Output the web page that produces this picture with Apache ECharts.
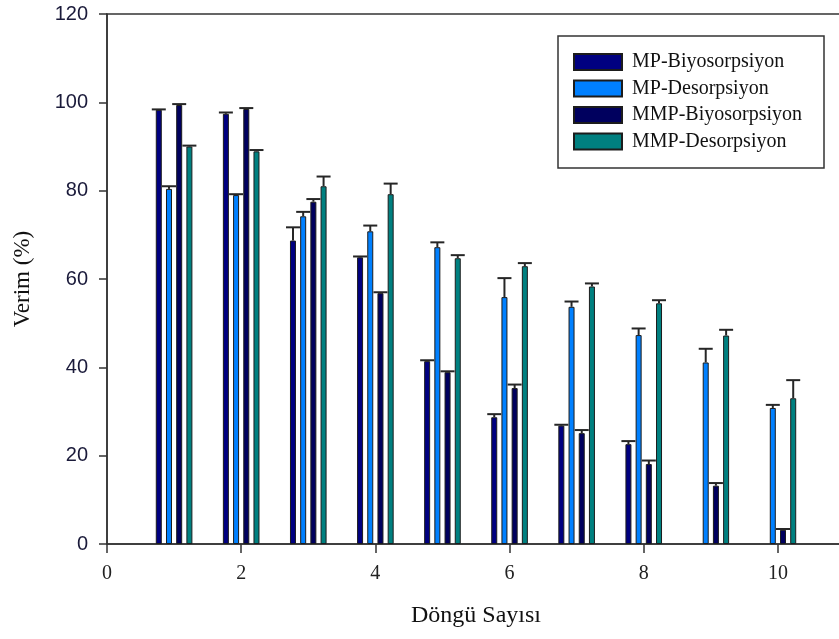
<!DOCTYPE html>
<html>
<head>
<meta charset="utf-8">
<script src="https://cdn.jsdelivr.net/npm/echarts@6/dist/echarts.min.js"></script>
<style>html,body{margin:0;padding:0;background:#fff}#c{width:839px;height:639px}</style>
</head>
<body>
<div id="c"></div>
<script>
const cycles = [1, 2, 3, 4, 5, 6, 7, 8, 9, 10];
const seriesNames = ['MP-Biyosorpsiyon', 'MP-Desorpsiyon', 'MMP-Biyosorpsiyon', 'MMP-Desorpsiyon'];
const mpBio = [98.3, 97.4, 68.7, 64.9, 41.4, 28.7, 26.8, 22.6, null, null];
const mpBioErr = [0.1, 0.3, 3.0, 0.2, 0.2, 0.7, 0.2, 0.7, null, null];
const mpDes = [80.4, 79.0, 74.2, 70.8, 67.2, 55.9, 53.7, 47.3, 41.1, 30.8];
const mpDesErr = [0.6, 0.2, 1.0, 1.3, 1.1, 4.3, 1.2, 1.5, 3.1, 0.7];
const mmpBio = [99.4, 98.5, 77.5, 56.8, 38.9, 35.3, 25.1, 18.1, 13.2, 3.2];
const mmpBioErr = [0.2, 0.2, 0.6, 0.2, 0.2, 0.8, 0.7, 0.8, 0.6, 0.2];
const mmpDes = [90.0, 88.9, 81.0, 79.2, 64.7, 62.9, 58.3, 54.5, 47.2, 33.0];
const mmpDesErr = [0.2, 0.3, 2.2, 2.4, 0.7, 0.7, 0.7, 0.7, 1.3, 4.1];
const xTicks = [0, 2, 4, 6, 8, 10];
const yTicks = [0, 20, 40, 60, 80, 100, 120];

const values = [mpBio, mpDes, mmpBio, mmpDes];
const errors = [mpBioErr, mpDesErr, mmpBioErr, mmpDesErr];
const colors = ['#000080', '#0080ff', '#00005e', '#008080'];

const BAR_W = 6, BAR_GAP = 4.2;
const PITCH = BAR_W + BAR_GAP;

const barSeries = values.map((arr, k) => ({
  name: seriesNames[k],
  type: 'bar',
  barWidth: BAR_W,
  barGap: (BAR_GAP / BAR_W * 100) + '%',
  itemStyle: { color: colors[k], borderColor: '#1c1c1c', borderWidth: 1 },
  data: cycles.map((c, i) => [c, arr[i]]),
  z: 2
}));

const errData = [];
values.forEach((arr, k) => {
  cycles.forEach((c, i) => {
    if (arr[i] != null) errData.push([c, arr[i], errors[k][i], k]);
  });
});

const errSeries = {
  type: 'custom',
  silent: true,
  z: 3,
  data: errData,
  renderItem: function (params, api) {
    const x = api.value(0), y = api.value(1), e = api.value(2), k = api.value(3);
    const base = api.coord([x, y]);
    const top = api.coord([x, y + e]);
    const cx = base[0] + (k - 1.5) * PITCH;
    const st = { stroke: '#262626', lineWidth: 2 };
    return {
      type: 'group',
      children: [
        { type: 'line', shape: { x1: cx, y1: base[1], x2: cx, y2: top[1] }, style: st },
        { type: 'line', shape: { x1: cx - 7, y1: top[1], x2: cx + 7, y2: top[1] }, style: st }
      ]
    };
  }
};

const chart = echarts.init(document.getElementById('c'), null, { renderer: 'canvas' });
chart.setOption({
  animation: false,
  backgroundColor: '#fff',
  grid: {
    left: 107, top: 14, width: 738, height: 530,
    containLabel: false, outerBoundsMode: 'none',
    show: true, borderColor: '#333', borderWidth: 1.5
  },
  legend: {
    orient: 'vertical',
    left: 573, top: 52,
    padding: 0,
    itemWidth: 48, itemHeight: 16,
    itemGap: 6.5,
    icon: 'rect',
    data: seriesNames,
    textStyle: { fontFamily: 'Liberation Serif', fontSize: 20, color: '#111', padding: [0, 0, 0, 5], lineHeight: 20 }
  },
  xAxis: {
    type: 'value',
    min: 0, max: 11, interval: 2,
    splitLine: { show: false },
    axisLine: { lineStyle: { color: '#333', width: 1.5 } },
    axisTick: { inside: false, length: 9, lineStyle: { color: '#333', width: 1.5 } },
    axisLabel: {
      showMaxLabel: false, margin: 20,
      fontFamily: 'Liberation Serif', fontSize: 20, color: '#222',
      formatter: v => (xTicks.indexOf(v) >= 0 ? String(v) : '')
    },
    name: 'Döngü Sayısı',
    nameLocation: 'middle',
    nameGap: 60,
    nameTextStyle: { fontFamily: 'Liberation Serif', fontSize: 24, color: '#111' }
  },
  yAxis: {
    type: 'value',
    min: 0, max: 120, interval: 20,
    splitLine: { show: false },
    axisLine: { show: true, lineStyle: { color: '#333', width: 1.5 } },
    axisTick: { show: true, inside: false, length: 8, lineStyle: { color: '#333', width: 1.5 } },
    axisLabel: {
      margin: 19,
      fontFamily: 'Liberation Sans', fontSize: 20, color: '#1a1a3a',
      formatter: v => (yTicks.indexOf(v) >= 0 ? String(v) : '')
    },
    name: 'Verim (%)',
    nameLocation: 'middle',
    nameGap: 73,
    nameTextStyle: { fontFamily: 'Liberation Serif', fontSize: 23, color: '#111' }
  },
  graphic: [{
    type: 'rect',
    shape: { x: 558, y: 36, width: 266, height: 132 },
    style: { fill: 'none', stroke: '#333', lineWidth: 1.5 },
    z: 10
  }],
  series: barSeries.concat([errSeries])
});
</script>
</body>
</html>
